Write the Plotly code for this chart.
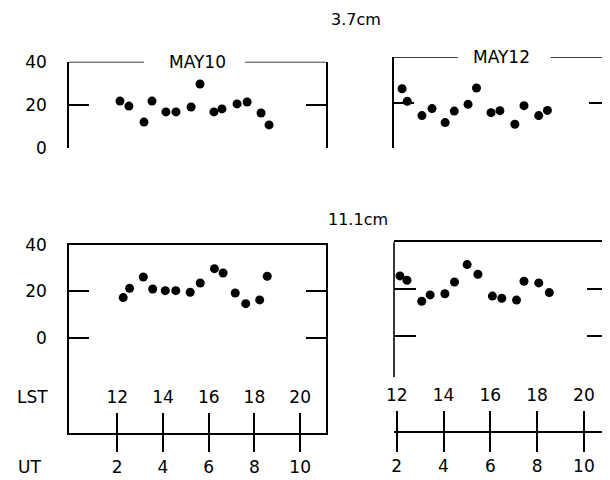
import plotly.graph_objects as go

# ---------------- data (UT hours, values) ----------------
ut_37_may10 = [2.12, 2.51, 3.17, 3.52, 4.13, 4.57, 5.23, 5.62, 6.23, 6.58, 7.24, 7.68, 8.29, 8.64]
val_37_may10 = [21.8, 19.5, 12.1, 21.8, 16.8, 16.8, 19.1, 29.7, 16.8, 18.2, 20.5, 21.4, 16.3, 10.8]

ut_37_may12 = [2.23, 2.45, 3.08, 3.51, 4.07, 4.46, 5.05, 5.41, 6.03, 6.41, 7.05, 7.44, 8.07, 8.44]
val_37_may12 = [26.1, 20.5, 14.2, 17.3, 11.1, 16.2, 19.2, 26.4, 15.5, 16.4, 10.4, 18.6, 14.2, 16.5]

ut_111_may10 = [2.26, 2.54, 3.14, 3.55, 4.10, 4.56, 5.19, 5.63, 6.25, 6.63, 7.16, 7.62, 8.23, 8.56]
val_111_may10 = [17.3, 21.3, 26.2, 21.0, 20.3, 20.3, 19.6, 23.6, 29.8, 27.9, 19.3, 14.7, 16.3, 26.5]

ut_111_may12 = [2.14, 2.44, 3.07, 3.43, 4.06, 4.47, 5.01, 5.47, 6.09, 6.49, 7.12, 7.44, 8.07, 8.52]
val_111_may12 = [25.7, 23.8, 14.9, 17.6, 18.1, 23.1, 30.5, 26.4, 17.1, 16.2, 15.4, 23.4, 22.7, 18.6]

y_ticks = [0, 20, 40]
ut_ticks = [2, 4, 6, 8, 10]
lst_ticks = [12, 14, 16, 18, 20]
lst_offset = 10

FONT = "DejaVu Sans"
# the page places the figure 8px from the top-left corner (body margin)
OFF = 8
W, H = 602, 472


def px(p):
    return (p - OFF) / W


def py(p):
    return 1 - (p - OFF) / H


fig = go.Figure()
marker = dict(color="black", size=9)
for xs, ys, xa, ya in [
    (ut_37_may10, val_37_may10, "x", "y"),
    (ut_37_may12, val_37_may12, "x2", "y2"),
    (ut_111_may10, val_111_may10, "x3", "y3"),
    (ut_111_may12, val_111_may12, "x4", "y4"),
]:
    fig.add_trace(go.Scatter(x=xs, y=ys, mode="markers", marker=marker,
                             xaxis=xa, yaxis=ya, showlegend=False, hoverinfo="skip"))
# empty traces so the LST axes exist
fig.add_trace(go.Scatter(x=[], y=[], xaxis="x5", yaxis="y3", showlegend=False))
fig.add_trace(go.Scatter(x=[], y=[], xaxis="x6", yaxis="y4", showlegend=False))

left_range = [-0.11, 11.13]
right_range = [1.885, 11.05]
left_dom = [px(69), px(326)]
right_dom = [px(394), min(1.0, px(608.5))]

LW = 1.6
TF = dict(family=FONT, size=17, color="black")
common_y = dict(range=[0, 40], tickvals=y_ticks, ticks="inside", ticklen=20,
                tickwidth=LW, tickcolor="black", showline=True, linewidth=LW,
                linecolor="black", mirror="ticks", showgrid=False, zeroline=False,
                automargin=False, ticklabelstandoff=17, tickfont=TF)

fig.update_layout(
    width=W, height=H,
    margin=dict(l=0, r=0, t=0, b=0, autoexpand=False),
    paper_bgcolor="white", plot_bgcolor="white",
    font=dict(family=FONT, color="black"),
    xaxis=dict(domain=left_dom, range=left_range, anchor="y", visible=False, automargin=False),
    yaxis=dict(domain=[py(148.3), py(61.7)], anchor="x", **common_y),
    xaxis2=dict(domain=right_dom, range=right_range, anchor="y2", visible=False, automargin=False),
    yaxis2=dict(domain=[py(147.7), py(57.3)], anchor="x2",
                **{**common_y, "showticklabels": False}),
    xaxis3=dict(domain=left_dom, range=left_range, anchor="y3", showline=True, mirror=True,
                linewidth=LW, linecolor="black", ticks="outside", ticklen=17, tickwidth=LW,
                tickcolor="black", tickvals=ut_ticks, showgrid=False, zeroline=False,
                automargin=False, ticklabelstandoff=1, tickfont=TF),
    yaxis3=dict(domain=[py(433), py(245)], anchor="x3",
                **{**common_y, "range": [-41.1, 40]}),
    xaxis4=dict(domain=right_dom, range=right_range, anchor="y4", showline=True, mirror=True,
                linewidth=LW, linecolor="black", ticks="outside", ticklen=19, tickwidth=LW,
                tickcolor="black", tickvals=ut_ticks, showgrid=False, zeroline=False,
                automargin=False, ticklabelstandoff=0, tickfont=TF),
    yaxis4=dict(domain=[py(430.7), py(242.3)], anchor="x4", range=[-40.2, 40],
                tickvals=y_ticks, ticks="inside", ticklen=22, tickwidth=LW,
                tickcolor="black", showline=False, mirror="ticks", showgrid=False,
                zeroline=False, showticklabels=False, automargin=False),
    xaxis5=dict(overlaying="x3", anchor="free", position=py(433), side="top",
                range=[left_range[0] + lst_offset, left_range[1] + lst_offset],
                tickvals=lst_ticks, ticks="outside", ticklen=20, tickwidth=LW,
                tickcolor="black", showline=False, showgrid=False, zeroline=False,
                automargin=False, ticklabelstandoff=3, tickfont=TF),
    xaxis6=dict(overlaying="x4", anchor="free", position=py(430.7), side="top",
                range=[right_range[0] + lst_offset, right_range[1] + lst_offset],
                tickvals=lst_ticks, ticks="outside", ticklen=20, tickwidth=LW,
                tickcolor="black", showline=False, showgrid=False, zeroline=False,
                automargin=False, ticklabelstandoff=3, tickfont=TF),
)

line = dict(color="black", width=LW)
shapes = [
    # top border of top-left panel with gap for title
    dict(type="line", xref="x domain", yref="y", x0=0, x1=0.292, y0=40, y1=40, line=line),
    dict(type="line", xref="x domain", yref="y", x0=0.685, x1=1, y0=40, y1=40, line=line),
    # top border of top-right panel with gap for title
    dict(type="line", xref="x2 domain", yref="y2", x0=0, x1=0.298, y0=40, y1=40, line=line),
    dict(type="line", xref="x2 domain", yref="y2", x0=0.73, x1=1, y0=40, y1=40, line=line),
    # bottom-right panel borders
    dict(type="line", xref="x4 domain", yref="y4 domain", x0=0, x1=0,
         y0=(430.7 - 377) / 188.4, y1=1, line=line),
    dict(type="line", xref="x4 domain", yref="y4 domain", x0=1, x1=1, y0=0, y1=1, line=line),
]
fig.update_layout(shapes=shapes)

ann = dict(showarrow=False, xanchor="center", yanchor="middle")
annotations = [
    dict(text="MAY10", xref="x domain", yref="y", x=0.5, y=40, font=TF, **ann),
    dict(text="MAY12", xref="x2 domain", yref="y2", x=0.5, y=40, font=TF, **ann),
    dict(text="3.7cm", xref="paper", yref="paper", x=px(356), y=py(19),
         font=dict(family=FONT, size=16, color="black"), **ann),
    dict(text="11.1cm", xref="paper", yref="paper", x=px(358), y=py(219),
         font=dict(family=FONT, size=16, color="black"), **ann),
    dict(text="LST", xref="paper", yref="paper", x=px(32), y=py(397), font=TF, **ann),
    dict(text="UT", xref="paper", yref="paper", x=px(29), y=py(467), font=TF, **ann),
]
fig.update_layout(annotations=annotations)

fig.write_html("out.html")
